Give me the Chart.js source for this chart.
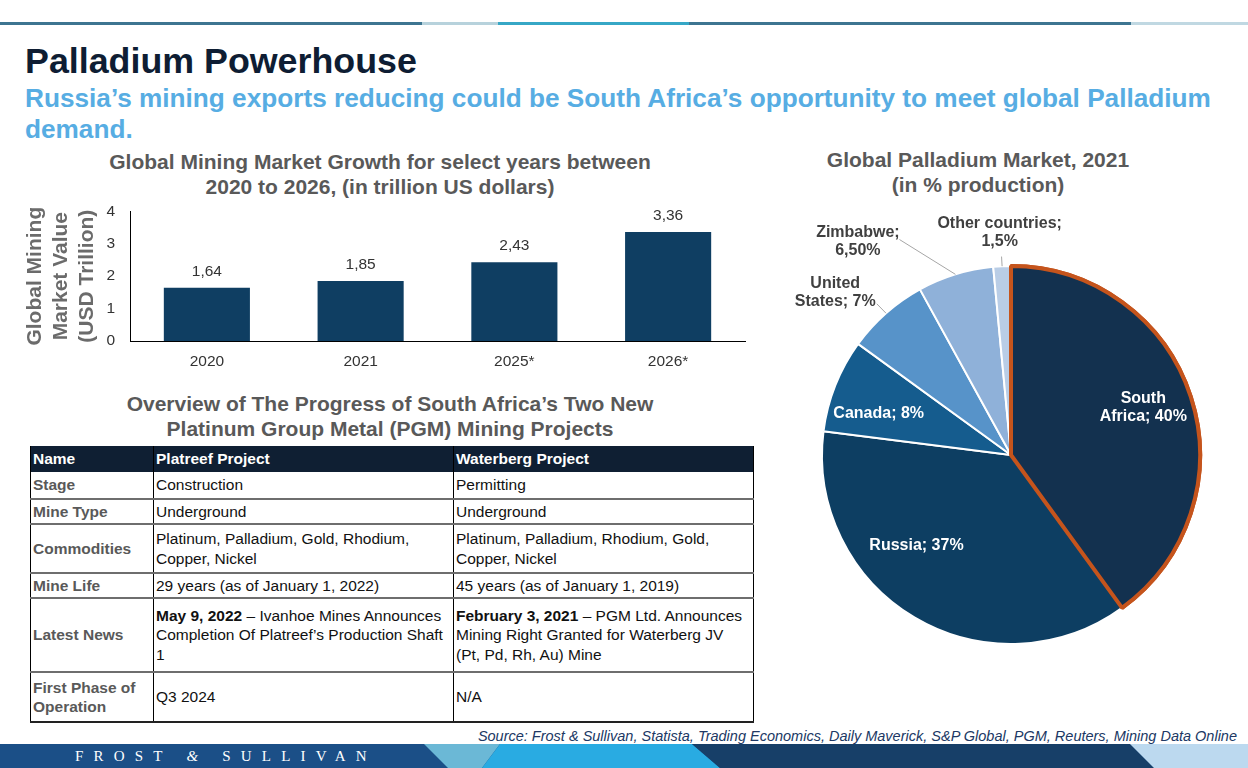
<!DOCTYPE html>
<html>
<head>
<meta charset="utf-8">
<script src="https://cdn.jsdelivr.net/npm/chart.js@4.4.1/dist/chart.umd.min.js"></script>
<style>
  body { margin: 0; width: 1248px; height: 768px; position: relative; overflow: hidden; background: #fff;
         font-family: "Liberation Sans", Arial, sans-serif; }
  .abs { position: absolute; }
  .heading { left: 25px; top: 41px; font-size: 35.8px; line-height: 40px; font-weight: bold; color: #0e1d33; margin: 0; }
  .sub { left: 25px; top: 83px; font-size: 26.2px; line-height: 31px; font-weight: bold; color: #57ade3; white-space: nowrap; }
  .ctitle { font-size: 21px; line-height: 25px; font-weight: bold; color: #595959; text-align: center; white-space: nowrap; }
  table { border-collapse: collapse; font-size: 15.5px; color: #111; table-layout: fixed; }
  td { border-left: 1px solid #000; border-right: 1px solid #000; border-bottom: 2px solid #6e6e6e;
       padding: 0 2px; vertical-align: middle; line-height: 19.5px; overflow: hidden; }
  tr.head td { background: #0f1f33; color: #fff; font-weight: bold; border-bottom: none; }
  td.rowname { color: #595959; font-weight: bold; }
  tr:last-child td { border-bottom: 2px solid #222; }
  .source { right: 11px; top: 728px; font-size: 14.5px; line-height: 16px; font-style: italic; color: #203864; white-space: nowrap; }
  .brand { left: 75px; top: 748px; font-family: "Liberation Serif", "DejaVu Serif", serif; font-size: 15px;
           letter-spacing: 10.2px; color: #fff; white-space: nowrap; }
</style>
</head>
<body>

<svg class="abs" style="left:0;top:22px" width="1248" height="3">
  <rect x="0" y="0" width="422" height="3" fill="#3d7591"/>
  <rect x="422" y="0" width="76" height="3" fill="#b7d2dc"/>
  <rect x="498" y="0" width="191" height="3" fill="#36a7c6"/>
  <rect x="689" y="0" width="442" height="3" fill="#3d7591"/>
  <rect x="1131" y="0" width="117" height="3" fill="#c0d8e2"/>
</svg>

<h1 class="abs heading">Palladium Powerhouse</h1>
<div class="abs sub">Russia’s mining exports reducing could be South Africa’s opportunity to meet global Palladium<br>demand.</div>

<div class="abs ctitle" style="left:80px;width:600px;top:149px">Global Mining Market Growth for select years between<br>2020 to 2026, (in trillion US dollars)</div>
<canvas id="barChart" class="abs" style="left:0;top:187px" width="760" height="185"></canvas>

<div class="abs ctitle" style="left:90px;width:600px;top:391px">Overview of The Progress of South Africa’s Two New<br>Platinum Group Metal (PGM) Mining Projects</div>
<table id="pgmTable" class="abs" style="left:30px;top:446px;width:723px"></table>

<div class="abs ctitle" style="left:778px;width:400px;top:147px">Global Palladium Market, 2021<br>(in % production)</div>
<canvas id="pieChart" class="abs" style="left:780px;top:200px" width="468" height="460"></canvas>

<div class="abs source">Source: Frost &amp; Sullivan, Statista, Trading Economics, Daily Maverick, S&amp;P Global, PGM, Reuters, Mining Data Online</div>

<svg class="abs" style="left:0;top:744px" width="1248" height="24">
  <rect x="0" y="0" width="1248" height="24" fill="#1b4f87"/>
  <polygon points="424,0 500,0 482,24 448,24" fill="#6bb8d6"/>
  <polygon points="500,0 692,0 720,24 482,24" fill="#29abe2"/>
  <polygon points="692,0 1130,0 1154,24 720,24" fill="#173f68"/>
  <polygon points="1130,0 1248,0 1248,24 1154,24" fill="#bcd9ef"/>
</svg>
<div class="abs brand">FROST <i>&amp;</i> SULLIVAN</div>

<script>
// bar chart data
const years = ["2020", "2021", "2025*", "2026*"];
const marketValues = [1.64, 1.85, 2.43, 3.36];
const yAxisTitle = ["Global Mining", "Market Value", "(USD Trillion)"];

// pie chart data (clockwise from 12 o'clock)
const countries = ["South Africa", "Russia", "Canada", "United States", "Zimbabwe", "Other countries"];
const productionShare = [40, 37, 8, 7, 6.5, 1.5];
const shareLabels = [["South", "Africa; 40%"], ["Russia; 37%"], ["Canada; 8%"], ["United", "States; 7%"], ["Zimbabwe;", "6,50%"], ["Other countries;", "1,5%"]];
const sliceColors = ["#13314f", "#0d3e62", "#155c8e", "#5793c9", "#8fb1d9", "#b9cde6"];

// table
const tableHead = ["Name", "Platreef Project", "Waterberg Project"];
const tableRows = [
  ["Stage", "Construction", "Permitting"],
  ["Mine Type", "Underground", "Underground"],
  ["Commodities", "Platinum, Palladium, Gold, Rhodium, Copper, Nickel", "Platinum, Palladium, Rhodium, Gold, Copper, Nickel"],
  ["Mine Life", "29 years (as of January 1, 2022)", "45 years (as of January 1, 2019)"],
  ["Latest News", "<b>May 9, 2022</b> – Ivanhoe Mines Announces Completion Of Platreef’s Production Shaft 1",
                  "<b>February 3, 2021</b> – PGM Ltd. Announces Mining Right Granted for Waterberg JV (Pt, Pd, Rh, Au) Mine"],
  ["First Phase of Operation", "Q3 2024", "N/A"]
];
const rowHeights = [26, 27, 25, 49, 25, 74, 50];
const colWidths = [123, 300, 300];

Chart.defaults.font.family = '"Liberation Sans", Arial, sans-serif';

// build the table
const table = document.getElementById("pgmTable");
let html = '<colgroup>' + colWidths.map(w => '<col style="width:' + w + 'px">').join('') + '</colgroup>';
html += '<tr class="head" style="height:' + rowHeights[0] + 'px">' + tableHead.map(h => '<td>' + h + '</td>').join('') + '</tr>';
tableRows.forEach((row, i) => {
  html += '<tr style="height:' + rowHeights[i + 1] + 'px">' +
    row.map((c, j) => '<td' + (j === 0 ? ' class="rowname"' : '') + '>' + c + '</td>').join('') + '</tr>';
});
table.innerHTML = html;

function commaNumber(v) {
  return v.toFixed(2).replace(".", ",");
}

// numbers above the bars
const barValuePlugin = {
  id: "barValues",
  afterDatasetsDraw(chart) {
    const ctx = chart.ctx;
    const meta = chart.getDatasetMeta(0);
    ctx.save();
    ctx.font = '15.5px "Liberation Sans", Arial, sans-serif';
    ctx.fillStyle = "#333";
    ctx.textAlign = "center";
    ctx.textBaseline = "middle";
    meta.data.forEach((bar, i) => {
      ctx.fillText(commaNumber(marketValues[i]), bar.x, bar.y - 16);
    });
    ctx.restore();
  }
};

new Chart(document.getElementById("barChart"), {
  type: "bar",
  data: {
    labels: years,
    datasets: [{
      data: marketValues,
      backgroundColor: "#0f3e62",
      barPercentage: 0.56,
      categoryPercentage: 1
    }]
  },
  options: {
    responsive: false,
    animation: false,
    layout: { padding: { top: 7, right: 15, left: 0, bottom: 0 } },
    plugins: { legend: { display: false }, tooltip: { enabled: false } },
    scales: {
      x: {
        grid: { display: false, drawTicks: false },
        border: { display: true, color: "#000" },
        ticks: { font: { size: 15.5 }, color: "#333", padding: 11 },
        afterFit(scale) { scale.height = 31; }
      },
      y: {
        min: 0,
        max: 4,
        ticks: { stepSize: 1, font: { size: 15.5 }, color: "#333", padding: 15 },
        grid: { display: false, drawTicks: false },
        border: { display: true, color: "#000" },
        title: {
          display: true,
          text: yAxisTitle,
          color: "#6b6b6b",
          font: { size: 21, weight: "bold", lineHeight: 1.24 },
          padding: { top: 22, bottom: 0 }
        },
        afterFit(scale) { scale.width = 130; }
      }
    }
  },
  plugins: [barValuePlugin]
});

// where each pie label sits, in units of the pie radius from its centre
const labelPos = [[0.70, -0.25], [-0.50, 0.48], [-0.70, -0.22], [-0.93, -0.86], [-0.81, -1.13], [-0.06, -1.175]];
const leaderEnd = [null, null, null, [-0.71, -0.80], [-0.59, -1.14], [-0.05, -1.05]];
const labelInside = [true, true, true, false, false, false];

const pieLabelPlugin = {
  id: "pieLabels",
  afterDatasetsDraw(chart) {
    const ctx = chart.ctx;
    const meta = chart.getDatasetMeta(0);
    // draw South Africa again so the orange outline stays on top
    meta.data[0].draw(ctx);
    ctx.save();
    meta.data.forEach((arc, i) => {
      const p = arc.getProps(["x", "y", "startAngle", "endAngle", "outerRadius"], true);
      const R = p.outerRadius;
      if (leaderEnd[i]) {
        const mid = (p.startAngle + p.endAngle) / 2;
        ctx.beginPath();
        ctx.moveTo(p.x + Math.cos(mid) * R, p.y + Math.sin(mid) * R);
        ctx.lineTo(p.x + leaderEnd[i][0] * R, p.y + leaderEnd[i][1] * R);
        ctx.strokeStyle = "#a6a6a6";
        ctx.lineWidth = 1;
        ctx.stroke();
      }
      const lines = shareLabels[i];
      const cx = p.x + labelPos[i][0] * R;
      const cy = p.y + labelPos[i][1] * R;
      ctx.font = 'bold 16px "Liberation Sans", Arial, sans-serif';
      ctx.fillStyle = labelInside[i] ? "#fff" : "#404040";
      ctx.textAlign = "center";
      ctx.textBaseline = "middle";
      lines.forEach((t, k) => {
        ctx.fillText(t, cx, cy + (k - (lines.length - 1) / 2) * 18);
      });
    });
    ctx.restore();
  }
};

new Chart(document.getElementById("pieChart"), {
  type: "pie",
  data: {
    labels: countries,
    datasets: [{
      data: productionShare,
      backgroundColor: sliceColors,
      borderColor: ["#c5541c", "#fff", "#fff", "#fff", "#fff", "#fff"],
      borderWidth: [4, 2, 2, 2, 2, 2],
      hoverOffset: 0
    }]
  },
  options: {
    responsive: false,
    animation: false,
    layout: { padding: { left: 40, top: 64, right: 46, bottom: 14 } },
    plugins: { legend: { display: false }, tooltip: { enabled: false } }
  },
  plugins: [pieLabelPlugin]
});
</script>
</body>
</html>
